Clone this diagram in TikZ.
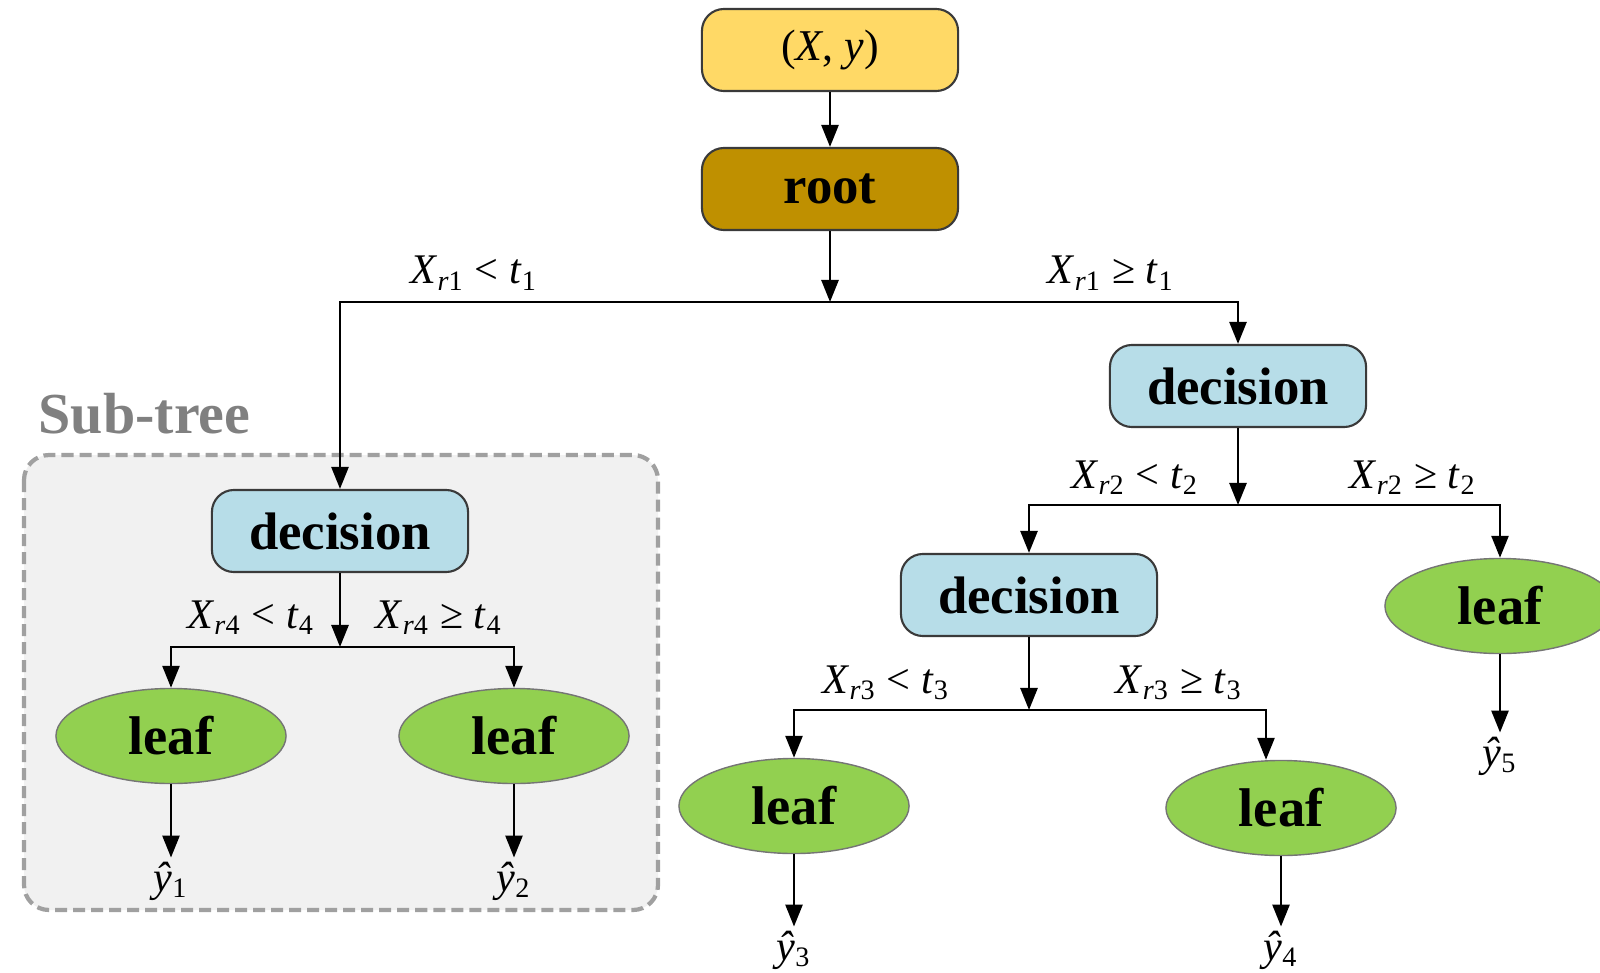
\documentclass[tikz,border=0pt]{standalone}
\usepackage{fontspec}
\setmainfont{Liberation Serif}
\usetikzlibrary{arrows.meta,shapes.geometric}
\definecolor{cyel}{HTML}{FFD966}
\definecolor{croot}{HTML}{BF9000}
\definecolor{cdec}{HTML}{B7DDE8}
\definecolor{cleaf}{HTML}{92D050}
\definecolor{cbord}{HTML}{3A3A3A}
\definecolor{csubfill}{HTML}{F1F1F1}
\definecolor{csubdash}{HTML}{A0A0A0}
\definecolor{csubtext}{HTML}{808080}
\newcommand\condlt[1]{\textit{X}\textsubscript{\textit{r}#1} {<} \textit{t}\textsubscript{#1}}
\newcommand\condge[1]{\textit{X}\textsubscript{\textit{r}#1} {≥} \textit{t}\textsubscript{#1}}
\newcommand\yhat[1]{\textit{ŷ}\textsubscript{#1}}
\begin{document}
\begin{tikzpicture}[x=0.01cm,y=-0.01cm,
  conn/.style={line width=0.75pt,-{Triangle[length=0.22cm,width=0.17cm]}},
  boxnode/.style={draw=cbord,line width=0.6pt,rounded corners=0.22cm,minimum width=2.56cm,minimum height=0.82cm,inner sep=0pt,font=\fontsize{15}{18}\selectfont\bfseries},
  leafnode/.style={ellipse,draw=cbord!70,line width=0.4pt,fill=cleaf,minimum width=2.3cm,minimum height=0.95cm,inner sep=0pt,font=\fontsize{15.5}{18}\selectfont\bfseries},
  cond/.style={font=\fontsize{12}{14}\selectfont,anchor=base,inner sep=0pt},
  outlbl/.style={font=\fontsize{12}{14}\selectfont,inner sep=1pt}
]
\useasboundingbox (0,0) rectangle (1600,973);
% sub-tree background
\draw[draw=csubdash,fill=csubfill,line width=1.2pt,dash pattern=on 0.12cm off 0.06cm,rounded corners=0.25cm] (24,455) rectangle (658,910);
\node[anchor=base west,inner sep=0pt,text=csubtext,font=\fontsize{16.5}{19}\selectfont\bfseries] (subt) at (38,433) {Sub-tree};

% nodes
\node[boxnode,fill=cyel,font=\fontsize{12.5}{15}\selectfont] (xy) at (830,50) {(\textit{X}, \textit{y})};
\node[boxnode,fill=croot] (root) at (830,189) {root};
\node[boxnode,fill=cdec] (d1) at (1238,386) {decision};
\node[boxnode,fill=cdec] (d4) at (340,531) {decision};
\node[boxnode,fill=cdec] (d3) at (1029,595) {decision};
\node[leafnode] (l1) at (171,736) {leaf};
\node[leafnode] (l2) at (514,736) {leaf};
\node[leafnode] (l5) at (1500,606) {leaf};
\node[leafnode] (l3) at (794,806) {leaf};
\node[leafnode] (l4) at (1281,808) {leaf};

\node[outlbl] (y1) at (171,881) {\yhat{1}};
\node[outlbl] (y2) at (514,881) {\yhat{2}};
\node[outlbl] (y3) at (794,950) {\yhat{3}};
\node[outlbl] (y4) at (1281,950) {\yhat{4}};
\node[outlbl] (y5) at (1500,756) {\yhat{5}};

% junction points
\coordinate (j1) at (830,302);
\coordinate (j2) at (1238,505);
\coordinate (j4) at (340,647);
\coordinate (j3) at (1029,710);
\coordinate (e4) at (1266,710);

% connectors
\draw[conn] (xy) -- (root);
\draw[conn] (root) -- (j1);
\draw[conn] (j1) -| (d4);
\draw[conn] (j1) -| (d1);
\draw[conn] (d1) -- (j2);
\draw[conn] (j2) -| (d3);
\draw[conn] (j2) -| (l5);
\draw[conn] (d4) -- (j4);
\draw[conn] (j4) -| (l1);
\draw[conn] (j4) -| (l2);
\draw[conn] (d3) -- (j3);
\draw[conn] (j3) -| (l3);
\draw[conn] (j3) -| (e4 |- l4.north);
\draw[conn] (l1) -- (y1);
\draw[conn] (l2) -- (y2);
\draw[conn] (l3) -- (y3);
\draw[conn] (l4) -- (y4);
\draw[conn] (l5) -- (y5);

% condition labels
\node[cond] (c1a) at (474,284) {\condlt{1}};
\node[cond] (c1b) at (1111,284) {\condge{1}};
\node[cond] (c2a) at (1135,488) {\condlt{2}};
\node[cond] (c2b) at (1413,488) {\condge{2}};
\node[cond] (c4a) at (251,628) {\condlt{4}};
\node[cond] (c4b) at (439,628) {\condge{4}};
\node[cond] (c3a) at (886,693) {\condlt{3}};
\node[cond] (c3b) at (1179,693) {\condge{3}};
\end{tikzpicture}
\end{document}
